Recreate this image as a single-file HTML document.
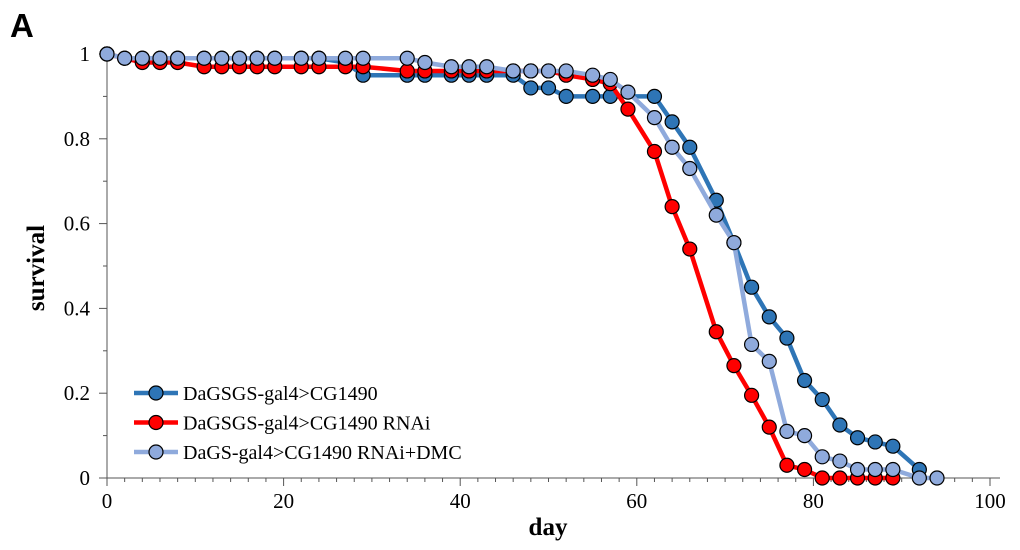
<!DOCTYPE html>
<html><head><meta charset="utf-8"><style>
body{margin:0;background:#fff}
svg{display:block}
text{font-family:"Liberation Serif",serif}
</style></head><body>
<svg id="chart" width="1020" height="550">
<text x="10" y="37" style="font-family:'Liberation Sans',sans-serif;font-weight:bold;font-size:33px">A</text>
<g id="axes"></g><g id="series"></g><g id="legend"></g>
</svg>
<script>
const days=[0,2,4,6,8,11,13,15,17,19,22,24,27,29,34,36,39,41,43,46,48,50,52,55,57,59,62,64,66,69,71,73,75,77,79,81,83,85,87,89,92,94];
const blueDays=[0,2,4,6,8,11,13,15,17,19,22,24,27,29,34,36,39,41,43,46,48,50,52,55,57,62,64,66,69,71,73,75,77,79,81,83,85,87,89,92];
const blueVals=[1,.99,.99,.99,.99,.99,.99,.99,.99,.99,.99,.99,.98,.95,.95,.95,.95,.95,.95,.95,.92,.92,.90,.90,.90,.90,.84,.78,.655,.555,.45,.38,.33,.23,.185,.125,.095,.085,.075,.02];
const redDays=[0,4,6,8,11,13,15,17,19,22,24,27,29,34,36,39,41,43,46,48,50,52,55,57,59,62,64,66,69,71,73,75,77,79,81,83,85,87,89];
const redVals=[1,.98,.98,.98,.97,.97,.97,.97,.97,.97,.97,.97,.97,.96,.96,.96,.96,.96,.96,.96,.96,.95,.94,.93,.87,.77,.64,.54,.345,.265,.195,.12,.03,.02,0,0,0,0,0];
const lightDays=days;
const lightVals=[1,.99,.99,.99,.99,.99,.99,.99,.99,.99,.99,.99,.99,.99,.99,.98,.97,.97,.97,.96,.96,.96,.96,.95,.94,.91,.85,.78,.73,.62,.555,.315,.275,.11,.10,.05,.04,.02,.02,.02,0,0];
const xTicks=[0,20,40,60,80,100];
const yTicks=[0,0.2,0.4,0.6,0.8,1];
const yLabels=["0","0.2","0.4","0.6","0.8","1"];
const legendNames=["DaGSGS-gal4>CG1490","DaGSGS-gal4>CG1490 RNAi","DaGS-gal4>CG1490 RNAi+DMC"];

const NS="http://www.w3.org/2000/svg";
const X=d=>107+d*8.83, Y=v=>478-v*424;
function mk(tag,attrs,parent,txt){const e=document.createElementNS(NS,tag);for(const k in attrs)e.setAttribute(k,attrs[k]);if(txt!==undefined)e.textContent=txt;parent.appendChild(e);return e;}
const ax=document.getElementById('axes');
let e=mk('line',{x1:107,y1:54,x2:107,y2:478,stroke:'#555','stroke-width':1},ax);

e=mk('line',{x1:107,y1:478,x2:1000,y2:478,stroke:'#555','stroke-width':1},ax);

for(let d=0;d<=100;d+=2){mk('line',{x1:X(d),y1:478,x2:X(d),y2:d%20==0?486:482,stroke:'#555'},ax);}
for(let v=0;v<=10;v++){mk('line',{x1:v%2==0?99:103,y1:Y(v/10),x2:107,y2:Y(v/10),stroke:'#555'},ax);}
xTicks.forEach(t=>{const el=mk('text',{x:X(t),y:508,'text-anchor':'middle','font-size':'21'},ax,String(t));
});
yTicks.forEach((t,i)=>{const el=mk('text',{x:90,y:Y(t)+7,'text-anchor':'end','font-size':'21'},ax,yLabels[i]);
});
e=mk('text',{x:548,y:535,'text-anchor':'middle','font-size':'25','font-weight':'bold'},ax,'day');

e=mk('text',{x:0,y:0,'text-anchor':'middle','font-size':'25','font-weight':'bold',transform:'translate(44,268) rotate(-90)'},ax,'survival');


const sg=document.getElementById('series');
const series=[[blueDays,blueVals,'#2e75b6','#2e75b6','series-dagsgs'],[redDays,redVals,'#ff0000','#ff0000','series-rnai'],[lightDays,lightVals,'#8faadc','#8faadc','series-rnai-dmc']];
[0,1,2].forEach(i=>{const [ds,vs,c,f,n]=series[i];
const g=mk('g',{},sg);
mk('polyline',{points:ds.map((d,j)=>X(d)+','+Y(vs[j])).join(' '),fill:'none',stroke:c,'stroke-width':4.5,'stroke-linejoin':'round'},g);
ds.forEach((d,j)=>{const p=mk('circle',{cx:X(d),cy:Y(vs[j]),r:7,fill:f,stroke:'#000','stroke-width':1.2},g);
});});

const lg=document.getElementById('legend');
legendNames.forEach((n,i)=>{const y=393+i*29.5;const c=series[i][2];
const g=mk('g',{},lg);
mk('line',{x1:134,y1:y,x2:178,y2:y,stroke:c,'stroke-width':4.5},g);
mk('circle',{cx:156,cy:y,r:7,fill:c,stroke:'#000','stroke-width':1.2},g);
mk('text',{x:183,y:y+7,'font-size':'20'},g,n);});
</script>
</body></html>
